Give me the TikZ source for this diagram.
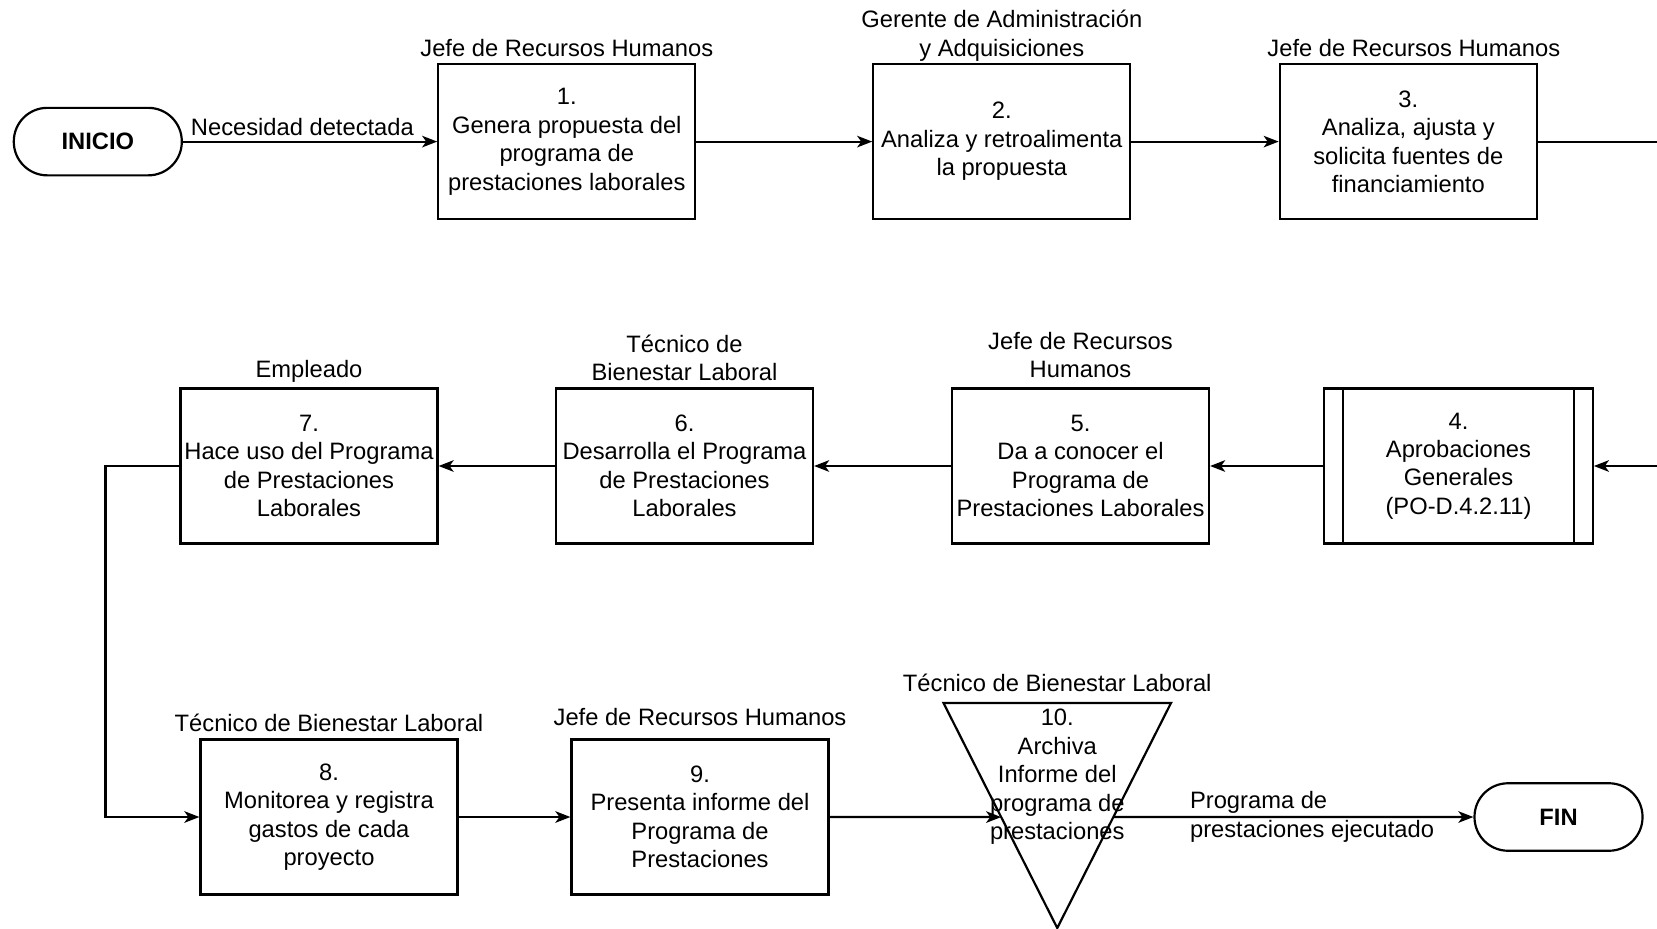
\documentclass[tikz,border=0pt]{standalone}
\usepackage{fontspec}
\setmainfont{Liberation Sans}
\usetikzlibrary{arrows.meta,calc}
\tikzset{
    block/.style = {draw, rectangle, line width=1.25pt,
        minimum height=3.1cm,
        minimum width=5.14cm, inner sep=0.05cm, align=center},
    term/.style = {draw, rectangle, rounded corners=0.67cm, line width=1.25pt,
        minimum height=1.35cm, minimum width=3.36cm,
        font=\bfseries\fontsize{13.5}{16.2}\selectfont},
    lbl/.style = {anchor=south, align=center, inner xsep=0pt, inner ysep=0.13cm, text depth=0pt},
    arrow/.style = {draw, line width=1.25pt, -{Stealth[length=0.3cm,width=0.23cm,inset=0.08cm]}},
    line/.style = {draw, line width=1.25pt}
}

\begin{document}
\begin{tikzpicture}[node distance=2cm, font=\fontsize{13.5}{16.2}\selectfont]
    \useasboundingbox (0,0) rectangle (33.14,-18.56);
    % fila 1
    \node [term] (inicio) at (1.956,-2.832) {INICIO};
    \node [block, right of=inicio, node distance=9.38cm] (b1) {1.\\ Genera propuesta del\\ programa de\\ prestaciones laborales};
    \draw [arrow] (inicio) -- node[above, pos=0.47, inner sep=0.1cm] (e1) {Necesidad detectada} (b1);
    \node [lbl] (l1) at (b1.north) {Jefe de Recursos Humanos};
    \node [block, right of=b1, node distance=8.70cm] (b2) {2.\\ Analiza y retroalimenta\\ la propuesta};
    \draw [arrow] (b1) -- (b2);
    \node [lbl] (l2) at (b2.north) {Gerente de Administración\\ y Adquisiciones};
    \node [block, right of=b2, node distance=8.13cm] (b3) {3.\\ Analiza, ajusta y\\ solicita fuentes de\\ financiamiento};
    \draw [arrow] (b2) -- (b3);
    \node [lbl, xshift=0.11cm] (l3) at (b3.north) {Jefe de Recursos Humanos};
    \coordinate (r1) at (33.14,-2.832);
    \draw [line] (b3) -- (r1);
    % fila 2
    \node [block, minimum width=5.37cm] (b4) at (29.17,-9.32) {4.\\ Aprobaciones\\ Generales\\ (PO-D.4.2.11)};
    \draw [line] ([xshift=0.4cm]b4.north west) -- ([xshift=0.4cm]b4.south west);
    \draw [line] ([xshift=-0.4cm]b4.north east) -- ([xshift=-0.4cm]b4.south east);
    \coordinate (r2) at (33.14,-9.32);
    \draw [arrow] (r2) -- (b4);
    \node [block, left of=b4, node distance=7.56cm] (b5) {5.\\ Da a conocer el\\ Programa de\\ Prestaciones Laborales};
    \draw [arrow] (b4) -- (b5);
    \node [lbl, yshift=0.06cm] (l5) at (b5.north) {Jefe de Recursos\\ Humanos};
    \node [block, left of=b5, node distance=7.92cm] (b6) {6.\\ Desarrolla el Programa\\ de Prestaciones\\ Laborales};
    \draw [arrow] (b5) -- (b6);
    \node [lbl] (l6) at (b6.north) {Técnico de\\ Bienestar Laboral};
    \node [block, left of=b6, node distance=7.51cm] (b7) {7.\\ Hace uso del Programa\\ de Prestaciones\\ Laborales};
    \draw [arrow] (b6) -- (b7);
    \node [lbl, yshift=0.06cm] (l7) at (b7.north) {Empleado};
    % fila 3
    \node [block] (b8) at (6.58,-16.34) {8.\\ Monitorea y registra\\ gastos de cada\\ proyecto};
    \draw [arrow] (b7.west) -- ++(-1.48,0) |- (b8.west);
    \node [lbl] (l8) at (b8.north) {Técnico de Bienestar Laboral};
    \node [block, right of=b8, node distance=7.42cm] (b9) {9.\\ Presenta informe del\\ Programa de\\ Prestaciones};
    \draw [arrow] (b8) -- (b9);
    \node [lbl, yshift=0.12cm] (l9) at (b9.north) {Jefe de Recursos Humanos};
    \coordinate (tl) at (18.87,-14.06);
    \coordinate (tr) at (23.42,-14.06);
    \coordinate (tb) at (21.145,-18.56);
    \draw [line] (tl) -- (tr) -- (tb) -- cycle;
    \node [align=center] (b10) at (21.145,-15.54) {10.\\ Archiva\\ Informe del\\ programa de\\ prestaciones};
    \node [lbl, yshift=0.1cm] (l10) at ($(tl)!0.5!(tr)$) {Técnico de Bienestar Laboral};
    \coordinate (tin) at ($(tl)!0.507!(tb)$);
    \coordinate (tout) at ($(tr)!0.507!(tb)$);
    \draw [arrow] (b9) -- (tin);
    \node [term] (fin) at (31.17,-16.34) {FIN};
    \draw [arrow] (tout) -- node[anchor=west, pos=0.21, align=left, inner sep=0pt] (e2) {Programa de\\ prestaciones ejecutado} (fin);
\end{tikzpicture}
\end{document}
